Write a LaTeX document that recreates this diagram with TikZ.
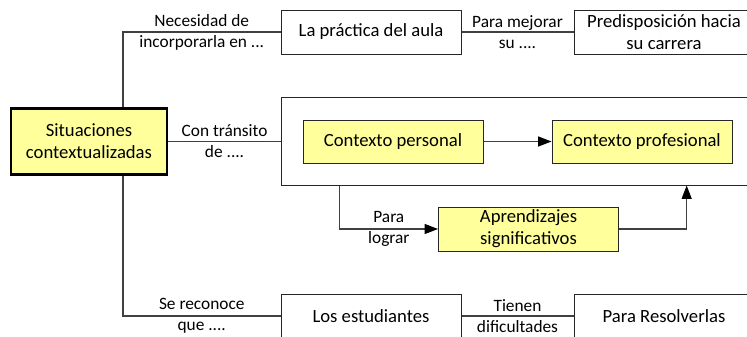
\documentclass[tikz,border=0pt]{standalone}
\usepackage{fontspec}
\setmainfont{Carlito}
\usepackage{xcolor}
\usetikzlibrary{positioning,arrows.meta,calc}

\definecolor{boxyel}{HTML}{FFFF9C}

\begin{document}
\begin{tikzpicture}[
    x=0.75pt, y=-0.75pt,
    font=\fontsize{14}{16.5}\selectfont,
    bx/.style  = {draw=black!85, line width=0.75pt, align=center, inner sep=0pt,
                  minimum width=135pt, minimum height=33pt, fill=white},
    ybx/.style = {bx, fill=boxyel},
    lbl/.style = {font=\fontsize{13}{15.75}\selectfont, align=center, inner sep=0pt},
    ln/.style  = {draw=black!75, line width=0.8pt},
    ar/.style  = {ln, -{Triangle[length=10pt,width=7.5pt,color=black]}},
]
\useasboundingbox (0,0) rectangle (747,336);
\clip (0,0) rectangle (747,336);

%--- main topic
\node[ybx, line width=2.2pt, draw=black, minimum width=117pt, minimum height=49pt]
      (sit) at (89,141.5) {Situaciones\\contextualizadas};

%--- top row
\node[bx] (aula) at (371,32) {La práctica del aula};
\node[bx] (pred) at (664,32) {Predisposición hacia\\su carrera};

%--- middle block
\node[bx, minimum width=359pt, minimum height=66pt] (big) at (520.5,141) {};
\node[ybx, minimum height=32.25pt] (cper)  at (393,141.5) {Contexto personal};
\node[ybx, minimum height=32.25pt] (cprof) at (642,141.5) {Contexto profesional};
\node[ybx] (apr) at (528.5,229) {Aprendizajes\\significativos};

%--- bottom row
\node[bx] (est) at (371,316) {Los estudiantes};
\node[bx] (res) at (664,316) {Para Resolverlas};

%--- edges
\draw[ln] ([xshift=25.5pt]sit.north) |- (aula.west)
      node[lbl, pos=0.75] {Necesidad de\\incorporarla en ...};
\draw[ln] (aula.east) -- (pred.west) node[lbl, midway] {Para mejorar\\su ....};

\draw[ln] (sit.east) -- (sit.east -| big.west) node[lbl, midway] {Con tránsito\\de ....};
\draw[ar] (cper) -- (cprof);
\draw[ar] ([xshift=44.25pt]big.south west) |- (apr.west)
      node[lbl, pos=0.75] {Para\\lograr};
\draw[ar] (apr.east) -| ([xshift=304.5pt]big.south west);

\draw[ln] ([xshift=25.5pt]sit.south) |- (est.west)
      node[lbl, pos=0.75] {Se reconoce\\que ....};
\draw[ln] (est.east) -- (res.west) node[lbl, midway] {Tienen\\dificultades};

\end{tikzpicture}
\end{document}
